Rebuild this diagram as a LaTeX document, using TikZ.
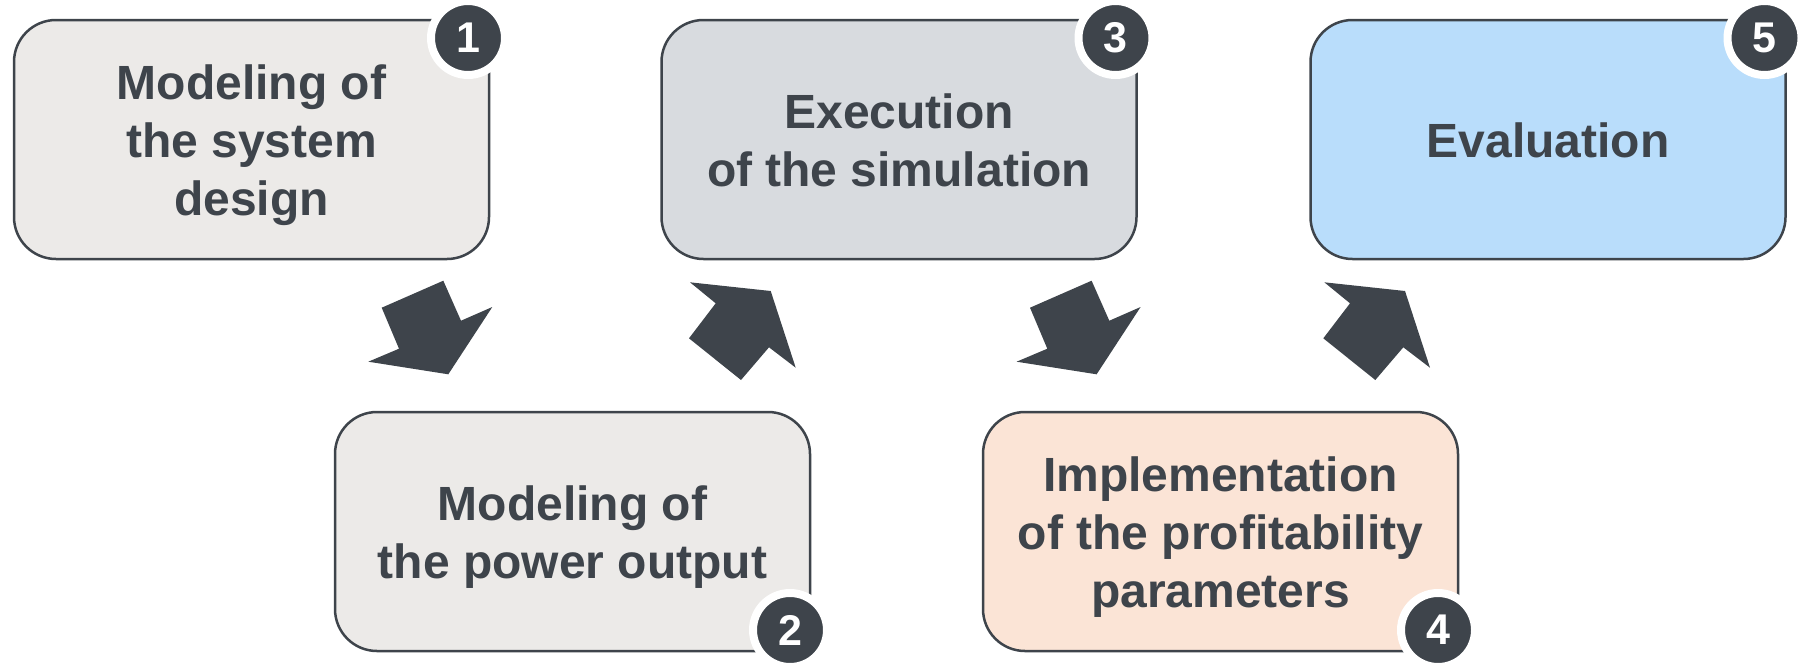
\documentclass[tikz,border=0pt]{standalone}
\usepackage{fontspec}
\setmainfont{Liberation Sans}
\definecolor{ink}{HTML}{3E444B}
\definecolor{greyA}{HTML}{ECEAE8}
\definecolor{greyB}{HTML}{D8DBDF}
\definecolor{peach}{HTML}{FBE4D6}
\definecolor{sky}{HTML}{B9DDFB}
\newcommand{\lnstrut}{\rule[-11pt]{0pt}{58pt}}
\begin{document}
\begin{tikzpicture}[x=1pt,y=-1pt,
  stepbox/.style={draw=ink, line width=2.5pt, rounded corners=42pt,
    minimum width=475pt, minimum height=239pt, inner sep=0pt, outer sep=0pt,
    align=center, text=ink, font=\fontsize{48}{58}\selectfont\bfseries},
  badge/.style={circle, fill=ink, draw=white, line width=8pt, minimum size=74pt,
    inner sep=0pt, text=white, font=\fontsize{43}{43}\selectfont\bfseries},
  blockarrow/.style={fill=ink}]
\useasboundingbox (0,0) rectangle (1803,662);
% boxes
\node[stepbox, fill=greyA] (b1) at (251.5,139.5) {\lnstrut Modeling of\\\lnstrut the system\\\lnstrut design};
\node[stepbox, fill=greyA] (b2) at (572.5,531.5) {\lnstrut Modeling of\\\lnstrut the power output};
\node[stepbox, fill=greyB] (b3) at (899,139.5) {\lnstrut Execution\\\lnstrut of the simulation};
\node[stepbox, fill=peach] (b4) at (1220.5,531.5) {\lnstrut Implementation\\\lnstrut of the profitability\\\lnstrut parameters};
\node[stepbox, fill=sky] (b5) at (1548,139.5) {\lnstrut Evaluation};
% badges
\node[badge] (n1) at ([shift={(-21,18)}]b1.north east) {1};
\node[badge] (n2) at ([shift={(-20,-21)}]b2.south east) {2};
\node[badge] (n3) at ([shift={(-21,18)}]b3.north east) {3};
\node[badge] (n4) at ([shift={(-20,-21)}]b4.south east) {4};
\node[badge] (n5) at ([shift={(-21,18)}]b5.north east) {5};
% block arrows
\foreach \dx in {0,648.3}{
  \fill[blockarrow, shift={(\dx,0)}] (381.7,307.7) -- (443.3,280.7) -- (461,320.7) -- (492.3,307)
    -- (448.3,374.3) -- (368.3,361.7) -- (399,348.7) -- cycle;
}
\foreach \dx in {0,634.3}{
  \fill[blockarrow, shift={(\dx,0)}] (690,282.3) -- (770.7,291) -- (795.7,367.7) -- (769,347.3)
    -- (741,380) -- (689,338.3) -- (715.7,303.3) -- cycle;
}
\end{tikzpicture}
\end{document}
